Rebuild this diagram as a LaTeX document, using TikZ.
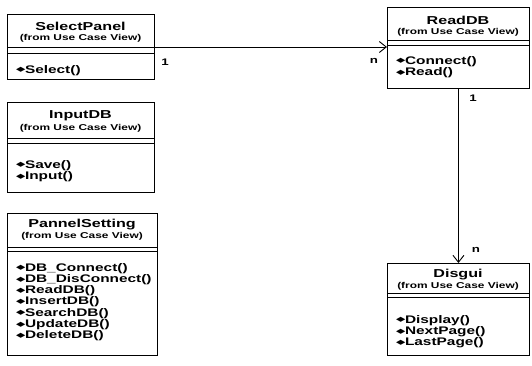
\documentclass[tikz,border=0pt]{standalone}
\usepackage{fontspec}
\usepackage{graphicx}
\newfontfamily\umlfont[FakeStretch=1.4]{Liberation Sans}
\newfontfamily\markfont{DejaVu Sans}
\newcommand{\opmark}{{\markfont\fontsize{11pt}{11pt}\selectfont\raisebox{1.2pt}{\scalebox{1.1}[0.6]{◆}}}\hspace{-0.5pt}}
\usepackage{tikz}
\usetikzlibrary{arrows.meta,positioning}

\begin{document}
\begin{tikzpicture}[x=1pt,y=-1pt,
  cls/.style={draw=black, line width=0.9pt, anchor=north west, inner sep=0pt},
  sep/.style={draw=black, line width=0.8pt},
  ctitle/.style={font=\umlfont\bfseries\fontsize{11.5pt}{12pt}\selectfont, inner sep=0pt},
  cfrom/.style={font=\umlfont\bfseries\fontsize{8.5pt}{9pt}\selectfont, inner sep=0pt},
  cops/.style={font=\umlfont\bfseries\fontsize{11pt}{10pt}\selectfont,
               align=left, anchor=north west, inner sep=0pt},
  mult/.style={font=\umlfont\bfseries\fontsize{9.5pt}{9pt}\selectfont, inner sep=0pt},
  assoc/.style={draw=black, line width=0.9pt, -{Straight Barb[length=7pt,width=11pt]}}
]
\useasboundingbox (0,0) rectangle (532,365);

%% SelectPanel
\node[cls, minimum width=147pt, minimum height=65pt] (selectpanel) at (7,14) {};
\node[ctitle] (selectpanel-name) at (80.5,26) {SelectPanel};
\node[cfrom] (selectpanel-from) at (80.5,38) {(from Use Case View)};
\draw[sep] ([yshift=-33pt]selectpanel.north west) -- ([yshift=-33pt]selectpanel.north east);
\draw[sep] ([yshift=-39pt]selectpanel.north west) -- ([yshift=-39pt]selectpanel.north east);
\node[cops] (selectpanel-ops) at (16,65) {\opmark Select()};

%% InputDB
\node[cls, minimum width=147pt, minimum height=90pt] (inputdb) at (7,102) {};
\node[ctitle] (inputdb-name) at (80.5,116) {InputDB};
\node[cfrom] (inputdb-from) at (80.5,128) {(from Use Case View)};
\draw[sep] ([yshift=-36pt]inputdb.north west) -- ([yshift=-36pt]inputdb.north east);
\draw[sep] ([yshift=-41pt]inputdb.north west) -- ([yshift=-41pt]inputdb.north east);
\node[cops] (inputdb-ops) at (16,160) {\opmark Save()\\ \opmark Input()};

%% PannelSetting
\node[cls, minimum width=150pt, minimum height=142pt] (pannelsetting) at (7,213) {};
\node[ctitle] (pannelsetting-name) at (82,225) {PannelSetting};
\node[cfrom] (pannelsetting-from) at (82,236) {(from Use Case View)};
\draw[sep] ([yshift=-34pt]pannelsetting.north west) -- ([yshift=-34pt]pannelsetting.north east);
\draw[sep] ([yshift=-38pt]pannelsetting.north west) -- ([yshift=-38pt]pannelsetting.north east);
\node[cops] (pannelsetting-ops) at (16,263) {\opmark DB\_Connect()\\ \opmark DB\_DisConnect()\\
  \opmark ReadDB()\\ \opmark InsertDB()\\ \opmark SearchDB()\\ \opmark UpdateDB()\\ \opmark DeleteDB()};

%% ReadDB
\node[cls, minimum width=142pt, minimum height=81pt] (readdb) at (387,7) {};
\node[ctitle] (readdb-name) at (458,20) {ReadDB};
\node[cfrom] (readdb-from) at (458,32) {(from Use Case View)};
\draw[sep] ([yshift=-33pt]readdb.north west) -- ([yshift=-33pt]readdb.north east);
\draw[sep] ([yshift=-38pt]readdb.north west) -- ([yshift=-38pt]readdb.north east);
\node[cops] (readdb-ops) at (396,56) {\opmark Connect()\\ \opmark Read()};

%% Disgui
\node[cls, minimum width=142pt, minimum height=92pt] (disgui) at (387,263) {};
\node[ctitle] (disgui-name) at (458,275) {Disgui};
\node[cfrom] (disgui-from) at (458,286) {(from Use Case View)};
\draw[sep] ([yshift=-30pt]disgui.north west) -- ([yshift=-30pt]disgui.north east);
\draw[sep] ([yshift=-34pt]disgui.north west) -- ([yshift=-34pt]disgui.north east);
\node[cops] (disgui-ops) at (396,315) {\opmark Display()\\ \opmark NextPage()\\ \opmark LastPage()};

%% Associations
\coordinate (selectpanel-end) at ([yshift=-33pt]selectpanel.north east);
\draw[assoc] (selectpanel-end) -- (selectpanel-end -| readdb.west);
\node[mult] (m1) at (165,62) {1};
\node[mult] (m2) at (374,61) {n};
\draw[assoc] (readdb.south) -- (disgui.north);
\node[mult] (m3) at (473,98) {1};
\node[mult] (m4) at (476,250) {n};

\end{tikzpicture}
\end{document}
